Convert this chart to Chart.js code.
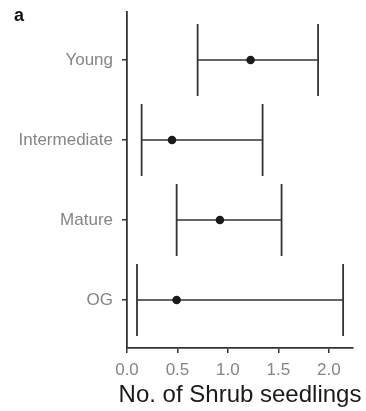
<!DOCTYPE html>
<html>
<head>
<meta charset="utf-8">
<script src="https://cdn.jsdelivr.net/npm/chart.js@4/dist/chart.umd.min.js"></script>
<style>
	html, body { margin: 0; padding: 0; background: #fff; }
	#wrap { position: relative; width: 366px; height: 411px; }
	#panel {
		position: absolute; left: 14px; top: 5px;
		font: bold 18px "Liberation Sans", Arial, sans-serif; color: #111;
	}
</style>
</head>
<body>
<div id="wrap">
	<canvas id="chart"></canvas>
	<div id="panel">a</div>
</div>
<script>
const categories = ["Young", "Intermediate", "Mature", "OG"];
const means = [1.225, 0.446, 0.921, 0.492];
const lower = [0.70, 0.145, 0.492, 0.099];
const upper = [1.894, 1.344, 1.532, 2.142];
const xTicks = [0, 0.5, 1.0, 1.5, 2.0];
const xTitle = "No. of Shrub seedlings";

const ink = "#333333";
const capHalf = 0.45;
const fontFamily = "'Liberation Sans', Arial, sans-serif";

function lineSet(points, width) {
	return {
		type: "line",
		data: points,
		showLine: true,
		borderColor: ink,
		borderWidth: width,
		borderCapStyle: "butt",
		pointRadius: 0,
		fill: false,
	};
}

const datasets = [
	{
		type: "scatter",
		data: means.map((m, i) => ({ x: m, y: i })),
		backgroundColor: "#1a1a1a",
		borderColor: "#1a1a1a",
		pointRadius: 4.3,
		borderWidth: 0,
	},
];
categories.forEach((c, i) => {
	datasets.push(lineSet([{ x: lower[i], y: i }, { x: upper[i], y: i }], 1.6));
	datasets.push(lineSet([{ x: lower[i], y: i - capHalf }, { x: lower[i], y: i + capHalf }], 1.8));
	datasets.push(lineSet([{ x: upper[i], y: i - capHalf }, { x: upper[i], y: i + capHalf }], 1.8));
});

// chart.js squeezes a scale title to the axis width, so draw it here instead
const axisTitle = {
	id: "axisTitle",
	afterDraw(chart) {
		const s = chart.scales.x;
		const ctx = chart.ctx;
		ctx.save();
		ctx.font = `24px ${fontFamily}`;
		ctx.fillStyle = "#1a1a1a";
		ctx.textAlign = "center";
		ctx.textBaseline = "alphabetic";
		ctx.fillText(xTitle, (s.left + s.right) / 2, s.bottom - 9);
		ctx.restore();
	},
};

const tickFont = { family: fontFamily, size: 17 };

new Chart(document.getElementById("chart"), {
	type: "scatter",
	data: { datasets: datasets },
	plugins: [axisTitle],
	options: {
		responsive: true,
		maintainAspectRatio: false,
		animation: false,
		events: [],
		layout: { padding: { top: 12, right: 13, left: 0, bottom: 0 } },
		plugins: {
			legend: { display: false },
			tooltip: { enabled: false },
		},
		scales: {
			x: {
				type: "linear",
				min: 0,
				max: 2.24,
				afterBuildTicks: (s) => { s.ticks = xTicks.map((v) => ({ value: v })); },
				afterFit: (s) => { s.height = 63; },
				grid: { drawOnChartArea: false, drawTicks: true, tickLength: 5, color: ink, lineWidth: 1.5 },
				border: { display: true, color: ink, width: 1.8 },
				ticks: {
					color: "#858585",
					font: tickFont,
					padding: 7,
					callback: (v) => v.toFixed(1),
				},
			},
			y: {
				type: "linear",
				reverse: true,
				min: -0.6,
				max: 3.6,
				afterBuildTicks: (s) => { s.ticks = categories.map((c, i) => ({ value: i })); },
				afterFit: (s) => {
					s.width = 127;
					s.paddingTop = 0;
					s.paddingBottom = 0;
				},
				grid: { drawOnChartArea: false, drawTicks: true, tickLength: 5, color: ink, lineWidth: 1.5 },
				border: { display: true, color: ink, width: 1.8 },
				ticks: {
					color: "#858585",
					font: tickFont,
					padding: 9,
					callback: (v) => categories[v],
				},
			},
		},
	},
});
</script>
</body>
</html>
